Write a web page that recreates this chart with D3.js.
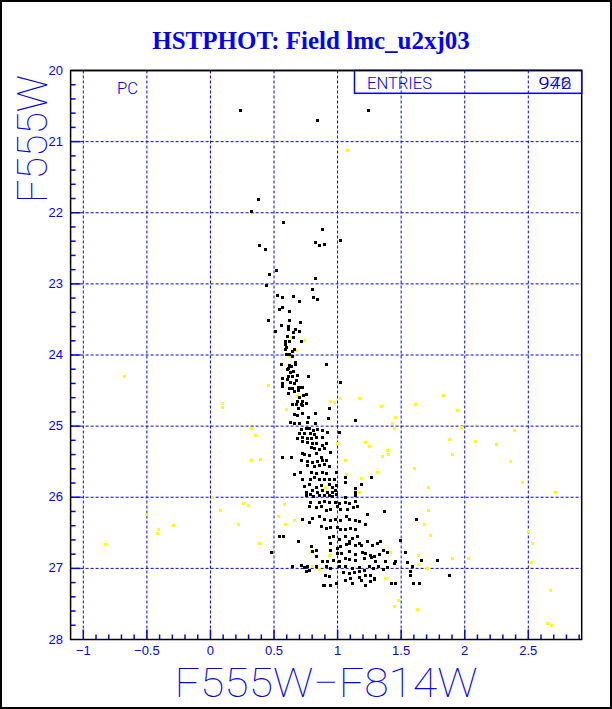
<!DOCTYPE html>
<html><head><meta charset="utf-8">
<script src="https://cdn.jsdelivr.net/npm/d3@7"></script>
<style>body{margin:0;background:#fff}svg{display:block}</style>
</head><body>
<script>
// ---- data ----
const title = "HSTPHOT: Field lmc_u2xj03";
const xTitle = "F555W\u2212F814W";
const yTitle = "F555W";
const xTickValues = [-1, -0.5, 0, 0.5, 1, 1.5, 2, 2.5];
const xTickLabels = ["\u22121", "\u22120.5", "0", "0.5", "1", "1.5", "2", "2.5"];
const yTickValues = [20, 21, 22, 23, 24, 25, 26, 27, 28];
const yTickLabels = ["20", "21", "22", "23", "24", "25", "26", "27", "28"];
const entriesA = "976";
const entriesB = "942";
const blackColor = [0.23,0.835,1.236,0.377,0.317,0.574,0.877,0.382,0.429,0.82,0.853,0.897,1.017,
0.515,0.462,0.822,0.436,0.80,0.522,0.561,0.65,0.806,0.838,0.697,0.54,0.561,0.619,0.455,0.619,0.705,0.556,0.608,0.509,0.613,0.65,0.666,0.697,0.603,0.653,0.71,0.585,0.619,0.587,0.593,0.585,0.655,0.64,0.598,0.619,0.64,0.666,0.666,0.554,0.619,0.613,0.632,0.91,0.606,0.65,0.624,0.767,0.681,0.613,0.64,0.559,0.603,0.676,0.624,0.658,0.566,0.561,0.689,0.71,0.619,0.645,0.655,0.689,0.723,0.611,0.752,0.728,0.697,0.718,0.684,0.645,0.671,0.71,0.754,0.72,0.689,0.931,1.02,0.658,0.723,0.82,0.684,0.765,0.921,0.629,0.658,0.697,0.762,0.82,1.134,0.749,0.775,0.71,0.804,0.84,0.874,0.697,0.738,0.783,0.811,0.913,1.01,0.684,0.723,0.762,0.79,0.827,0.874,0.757,0.796,0.827,0.874,0.91,0.723,0.79,0.811,0.853,0.892,
0.561,0.632,0.723,0.736,0.775,0.827,0.866,0.944,0.905,0.879,0.71,0.762,0.80,0.84,0.762,0.814,0.853,0.892,0.931,0.658,0.702,0.788,0.827,0.874,0.905,0.991,0.723,0.78,0.816,0.853,0.89,0.931,0.97,1.06,1.265,0.736,0.775,0.827,0.866,0.931,0.957,0.988,1.056,1.186,0.749,0.80,0.84,0.879,0.913,0.957,0.977,1.134,1.134,0.749,0.78,0.806,0.853,0.892,0.931,0.957,0.988,1.06,1.14,0.78,0.853,0.892,0.931,0.977,1.009,1.06,1.087,1.14,1.366,0.775,0.827,0.866,0.907,0.944,0.996,1.022,1.074,1.121,1.152,0.723,0.775,0.801,0.853,0.895,0.944,0.983,1.022,1.066,1.087,1.134,1.165,1.233,1.212,1.619,0.866,0.911,0.944,0.996,1.022,1.06,1.095,1.14,0.54,0.572,0.689,0.931,0.961,1.009,1.058,1.09,1.113,1.152,0.944,0.996,1.02,1.063,1.092,1.134,1.165,1.186,1.233,1.272,1.311,1.337,1.494,0.476,0.793,0.827,0.80,0.944,0.996,1.027,1.087,1.139,1.191,1.212,1.251,1.29,1.329,1.355,1.389,1.53,0.827,0.874,0.918,0.961,1.009,1.061,1.087,1.139,1.204,1.264,1.295,1.373,1.451,1.542,1.655,1.785,1.441,1.582,0.645,0.71,0.736,0.762,0.827,0.905,0.944,1.009,1.061,1.113,1.165,1.204,1.246,1.282,1.32,1.355,1.392,0.749,0.775,1.04,1.09,1.126,1.165,1.217,1.256,1.29,1.10,1.165,1.567,1.572,1.421,1.452,1.59,1.642,0.931,0.90,0.892,0.944,0.988,1.06,1.113,1.181,1.218,1.257,1.283,1.874,0.883];
const blackMag = [20.55,20.70,20.56,21.80,21.98,22.13,22.23,22.46,22.51,22.41,22.46,22.44,22.38,
22.81,22.86,22.92,23.01,23.07,23.15,23.19,23.17,23.18,23.21,23.24,23.35,23.33,23.38,23.51,23.51,23.54,23.58,23.59,23.66,23.63,23.67,23.64,23.66,23.73,23.75,23.80,23.80,23.81,23.85,23.89,23.92,23.92,23.94,23.98,23.98,24.02,24.10,24.13,24.13,24.14,24.18,24.16,24.13,24.20,24.22,24.24,24.30,24.28,24.29,24.29,24.32,24.34,24.35,24.38,24.39,24.39,24.44,24.45,24.45,24.46,24.46,24.51,24.49,24.45,24.53,24.55,24.56,24.59,24.65,24.64,24.69,24.69,24.69,24.68,24.71,24.75,24.75,24.38,24.83,24.82,24.82,24.85,24.87,24.89,24.94,24.96,24.96,24.94,24.96,24.92,25.03,25.03,25.04,25.06,25.04,25.06,25.10,25.10,25.09,25.11,25.08,25.08,25.16,25.15,25.17,25.16,25.15,25.15,25.23,25.24,25.24,25.26,25.24,25.21,25.30,25.31,25.32,25.31,
25.44,25.43,25.38,25.39,25.40,25.38,25.43,25.36,25.47,25.47,25.48,25.49,25.50,25.49,25.54,25.56,25.54,25.53,25.56,25.68,25.64,25.64,25.66,25.64,25.66,25.64,25.75,25.74,25.72,25.74,25.75,25.75,25.74,25.72,25.71,25.84,25.82,25.85,25.83,25.82,25.85,25.83,25.79,25.81,25.92,25.90,25.93,25.90,25.93,25.92,25.90,25.87,25.92,25.97,25.96,25.98,25.97,25.97,25.97,25.98,25.96,25.99,25.97,26.07,26.07,26.05,26.06,26.07,26.08,26.07,26.08,26.05,26.19,26.12,26.14,26.12,26.18,26.16,26.13,26.16,26.17,26.14,26.12,26.30,26.35,26.29,26.27,26.31,26.32,26.30,26.32,26.27,26.31,26.32,26.34,26.24,26.38,26.31,26.41,26.43,26.42,26.42,26.45,26.45,26.43,26.45,26.54,26.54,26.61,26.56,26.55,26.58,26.54,26.61,26.57,26.55,26.65,26.71,26.69,26.66,26.65,26.67,26.64,26.67,26.62,26.67,26.65,26.62,26.60,26.77,26.69,26.74,26.76,26.74,26.78,26.79,26.76,26.80,26.77,26.79,26.81,26.82,26.80,26.74,26.77,26.77,26.83,26.89,26.90,26.88,26.90,26.85,26.87,26.88,26.86,26.84,26.90,26.90,26.89,26.91,26.88,26.88,26.93,26.96,26.96,26.95,26.98,26.96,26.97,26.97,26.99,26.97,26.96,26.99,26.98,27.02,26.96,26.99,26.97,27.01,26.98,27.04,27.02,27.05,27.07,27.05,27.04,27.10,27.09,27.13,27.13,27.12,27.03,27.09,27.21,27.21,27.20,27.20,27.11,27.10,27.24,27.24,27.20,27.17,27.20,27.17,27.24,27.18,27.15,27.09,27.24];
const yellowColor = [1.077,0.634,0.733,0.666,0.619,0.455,0.681,0.593,0.944,0.97,1.02,1.166,1.338,1.608,1.827,1.455,1.43,1.444,0.319,0.353,0.996,1.212,1.249,1.392,1.40,1.353,1.056,0.319,0.39,1.60,1.311,1.066,1.186,1.713,0.90,1.17,0.577,1.713,0.869,0.53,0.655,0.587,1.679,1.726,0.384,0.791,0.931,1.413,1.634,1.634,1.707,0.801,0.853,1.374,1.478,1.444,1.621,2.669,2.648,2.68,-0.678,0.093,0.088,0.009,0.072,0.259,0.298,-0.506,-0.415,-0.423,-0.298,0.215,-0.829,1.937,1.968,2.385,1.874,2.077,2.244,1.90,2.359,2.447,2.713,2.494,2.53,1.90,2.025,2.525];
const yellowMag = [21.12,23.74,23.79,23.93,24.02,24.42,24.57,24.76,24.64,24.66,24.60,24.61,24.72,24.69,24.56,24.87,24.96,25.03,25.03,25.13,25.24,25.22,25.28,25.33,25.39,25.42,25.47,25.47,25.46,25.59,25.64,25.67,25.73,25.85,25.85,25.92,26.10,26.18,26.13,26.26,26.32,26.38,26.38,26.53,26.65,26.75,26.81,26.77,26.81,26.94,26.99,26.97,27.01,27.13,27.44,27.53,27.57,27.30,27.77,27.79,24.30,24.68,24.73,26.00,26.18,26.08,26.11,26.23,26.45,26.50,26.39,26.38,26.66,24.77,25.01,25.06,25.18,25.21,25.25,25.39,25.49,25.79,25.92,26.47,26.65,26.86,26.86,26.91];

// ---- layout ----
const W = 612, H = 709;
const BLUE = "#0000ff";
const svg = d3.select("body").append("svg").attr("width", W).attr("height", H);
svg.append("rect").attr("x",0).attr("y",0).attr("width",W).attr("height",H).attr("fill","#fff");
svg.append("rect").attr("x",1).attr("y",1).attr("width",W-2).attr("height",H-2)
  .attr("fill","none").attr("stroke","#000").attr("stroke-width",2);

const x = d3.scaleLinear().domain([-1.1, 2.92]).range([70.6, 581.7]);
const y = d3.scaleLinear().domain([20, 28]).range([70.5, 639.5]);
const L = x.range()[0], R = x.range()[1], T = y.range()[0], B = y.range()[1];

// title
svg.append("text").attr("x", 311).attr("y", 49).attr("text-anchor","middle")
  .attr("font-family","'Liberation Serif', 'Times New Roman', serif").attr("font-weight","bold")
  .attr("font-size",25).attr("fill",BLUE).text(title);

// grid
const g = svg.append("g");
g.selectAll("line.gx").data(xTickValues).enter().append("line")
  .attr("x1", d=>x(d)).attr("x2", d=>x(d)).attr("y1", T).attr("y2", B)
  .attr("stroke", BLUE).attr("stroke-width",1).attr("stroke-dasharray","3,2");
g.selectAll("line.gy").data(yTickValues.filter(v=>v>20 && v<28)).enter().append("line")
  .attr("y1", d=>y(d)).attr("y2", d=>y(d)).attr("x1", L).attr("x2", R)
  .attr("stroke", BLUE).attr("stroke-width",1).attr("stroke-dasharray","3,2");

// points
const pts = svg.append("g").attr("shape-rendering","crispEdges");
pts.selectAll("rect.y").data(d3.range(yellowColor.length)).enter().append("rect")
  .attr("x", i=>Math.round(x(yellowColor[i]))-1).attr("y", i=>Math.round(y(yellowMag[i]))-1)
  .attr("width",3).attr("height",3).attr("fill","#ffff00");
pts.selectAll("rect.b").data(d3.range(blackColor.length)).enter().append("rect")
  .attr("x", i=>Math.round(x(blackColor[i]))-1).attr("y", i=>Math.round(y(blackMag[i]))-1)
  .attr("width",3).attr("height",3).attr("fill","#000");

// ticks (inside)
const xMinor = d3.range(-11, 30).map(v=>v/10);
const yMinor = d3.range(100, 141).map(v=>v/5);
const isMajX = v => Math.abs(v*2 - Math.round(v*2)) < 1e-6;
const isMajY = v => Math.abs(v - Math.round(v)) < 1e-6;
svg.append("g").selectAll("line").data(xMinor.filter(v=>x(v)>L+1 && x(v)<R-1)).enter().append("line")
  .attr("x1", d=>x(d)).attr("x2", d=>x(d)).attr("y1", B).attr("y2", d=>B-(isMajX(d)?10:5))
  .attr("stroke", BLUE).attr("stroke-width",1.5);
svg.append("g").selectAll("line").data(yMinor.filter(v=>y(v)>T+1 && y(v)<B-1)).enter().append("line")
  .attr("y1", d=>y(d)).attr("y2", d=>y(d)).attr("x1", L).attr("x2", d=>L+(isMajY(d)?10:5))
  .attr("stroke", BLUE).attr("stroke-width",1.5);

// frame
svg.append("rect").attr("x",L).attr("y",T).attr("width",R-L).attr("height",B-T)
  .attr("fill","none").attr("stroke","#000").attr("stroke-width",1.5);

// tick labels
svg.append("g").selectAll("text").data(xTickValues).enter().append("text")
  .attr("x", d=>x(d)).attr("y", 655).attr("text-anchor","middle")
  .attr("font-family","'Liberation Sans', Arial, sans-serif").attr("font-size",13).attr("fill",BLUE)
  .text((d,i)=>xTickLabels[i]);
svg.append("g").selectAll("text").data(yTickValues).enter().append("text")
  .attr("x", 63).attr("y", d=>y(d)+4).attr("text-anchor","end")
  .attr("font-family","'Liberation Sans', Arial, sans-serif").attr("font-size",13).attr("fill",BLUE)
  .text((d,i)=>yTickLabels[i]);

// axis titles
svg.append("text").attr("x", 326).attr("y", 697).attr("text-anchor","middle")
  .attr("font-family","Roboto, 'DejaVu Sans', sans-serif").attr("font-weight",100)
  .attr("font-size",41).attr("fill",BLUE)
  .attr("textLength",303).attr("lengthAdjust","spacingAndGlyphs").text(xTitle);
svg.append("text").attr("transform","translate(47,139) rotate(-90)").attr("text-anchor","middle")
  .attr("font-family","Roboto, 'DejaVu Sans', sans-serif").attr("font-weight",100)
  .attr("font-size",43).attr("fill",BLUE)
  .attr("textLength",128).attr("lengthAdjust","spacingAndGlyphs").text(yTitle);

// PC label
svg.append("text").attr("x",117).attr("y",94)
  .attr("font-family","Roboto, 'Liberation Sans', sans-serif").attr("font-weight",300)
  .attr("font-size",17).attr("fill",BLUE).attr("textLength",21).attr("lengthAdjust","spacingAndGlyphs").text("PC");

// entries box
svg.append("rect").attr("x",354.5).attr("y",T).attr("width",R-354.5).attr("height",93.3-T)
  .attr("fill","#fff").attr("stroke",BLUE).attr("stroke-width",1.5);
svg.append("g").selectAll("line").data(xTickValues.filter(v=>x(v)>354.5)).enter().append("line")
  .attr("x1", d=>x(d)).attr("x2", d=>x(d)).attr("y1", T).attr("y2", 93.3)
  .attr("stroke", BLUE).attr("stroke-width",1).attr("stroke-dasharray","3,2");
svg.append("line").attr("x1",L).attr("x2",R).attr("y1",T).attr("y2",T).attr("stroke","#000").attr("stroke-width",1.5);
svg.append("text").attr("x",367).attr("y",88.5)
  .attr("font-family","Roboto, 'Liberation Sans', sans-serif").attr("font-weight",300)
  .attr("font-size",16).attr("fill",BLUE).attr("textLength",65).attr("lengthAdjust","spacingAndGlyphs").text("ENTRIES");
[entriesA, entriesB].forEach(s => {
  svg.append("text").attr("x",538.5).attr("y",88.5)
    .attr("font-family","Roboto, 'Liberation Sans', sans-serif").attr("font-weight",300)
    .attr("font-size",16).attr("fill",BLUE).attr("textLength",33).attr("lengthAdjust","spacingAndGlyphs").text(s);
});
</script>
</body></html>
